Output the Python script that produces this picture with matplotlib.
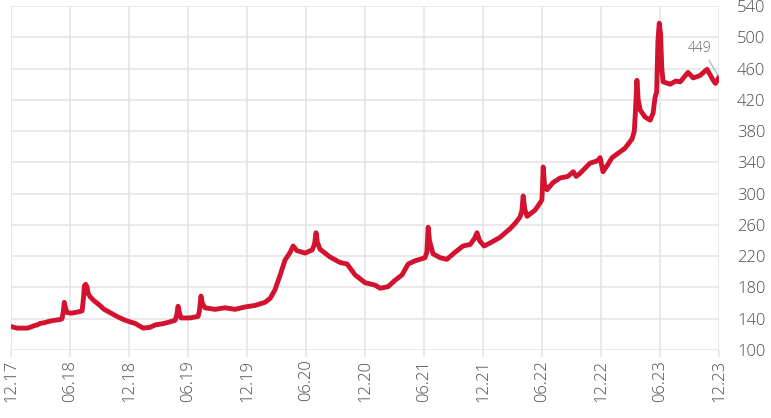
import pandas as pd
import matplotlib.pyplot as plt
import matplotlib.dates as mdates

# values
dates = ['2017-12-01', '2017-12-10', '2017-12-20', '2018-01-05', '2018-01-20', '2018-01-29',
         '2018-02-10', '2018-02-20', '2018-03-01', '2018-03-15', '2018-04-01', '2018-04-15',
         '2018-05-02', '2018-05-08', '2018-05-12', '2018-05-15', '2018-05-18', '2018-05-23',
         '2018-06-05', '2018-06-17', '2018-06-30', '2018-07-09', '2018-07-13', '2018-07-16',
         '2018-07-20', '2018-07-24', '2018-07-28', '2018-08-03', '2018-08-15', '2018-09-02',
         '2018-09-15', '2018-10-03', '2018-10-20', '2018-11-03', '2018-11-20', '2018-12-04',
         '2018-12-20', '2019-01-14', '2019-02-04', '2019-02-20', '2019-03-07', '2019-03-20',
         '2019-04-07', '2019-04-23', '2019-04-28', '2019-05-02', '2019-05-06', '2019-05-11',
         '2019-06-08', '2019-07-03', '2019-07-07', '2019-07-12', '2019-07-16', '2019-07-24',
         '2019-08-24', '2019-09-24', '2019-10-25', '2019-11-25', '2019-12-26', '2020-01-26',
         '2020-02-11', '2020-02-26', '2020-03-13', '2020-03-28', '2020-04-13', '2020-04-22',
         '2020-05-04', '2020-05-29', '2020-06-20', '2020-06-27', '2020-07-02', '2020-07-06',
         '2020-07-14', '2020-08-14', '2020-09-14', '2020-10-06', '2020-10-31', '2020-12-01',
         '2021-01-01', '2021-01-16', '2021-02-10', '2021-03-03', '2021-03-25', '2021-04-13',
         '2021-05-04', '2021-06-04', '2021-06-10', '2021-06-14', '2021-06-18', '2021-06-29',
         '2021-07-21', '2021-08-11', '2021-09-05', '2021-09-30', '2021-10-22', '2021-11-05',
         '2021-11-12', '2021-11-20', '2021-12-04', '2021-12-23', '2022-01-22', '2022-02-22',
         '2022-03-10', '2022-03-25', '2022-03-31', '2022-04-04', '2022-04-09', '2022-04-16',
         '2022-05-11', '2022-05-26', '2022-06-01', '2022-06-05', '2022-06-09', '2022-06-17',
         '2022-07-05', '2022-07-27', '2022-08-20', '2022-09-06', '2022-09-15', '2022-09-27',
         '2022-10-28', '2022-11-20', '2022-11-28', '2022-12-07', '2022-12-20', '2023-01-04',
         '2023-02-13', '2023-03-07', '2023-03-14', '2023-03-18', '2023-03-22', '2023-03-26',
         '2023-04-01', '2023-04-16', '2023-05-02', '2023-05-11', '2023-05-17', '2023-05-22',
         '2023-05-26', '2023-05-30', '2023-06-03', '2023-06-07', '2023-06-11', '2023-07-03',
         '2023-07-20', '2023-08-03', '2023-08-27', '2023-09-12', '2023-10-03', '2023-10-25',
         '2023-11-13', '2023-11-20', '2023-12-01']
values = [130, 129, 128, 128, 128, 129,
          131, 132, 134, 135, 137, 138,
          139, 140, 150, 161, 155, 148,
          147, 148, 149, 150, 165, 182,
          184, 181, 172, 168, 163, 157,
          152, 148, 144, 141, 138, 136,
          134, 128, 129, 132, 133, 134,
          136, 138, 145, 156, 148, 141,
          141, 143, 150, 169, 160, 154,
          152, 154, 152, 155, 157, 161,
          166, 177, 196, 215, 225, 233,
          227, 224, 228, 235, 250, 238,
          229, 219, 212, 210, 196, 186,
          183, 179, 181, 189, 196, 210,
          214, 218, 225, 257, 240, 223,
          218, 216, 225, 233, 235, 243,
          250, 240, 233, 237, 244, 255,
          262, 270, 278, 297, 280, 271,
          279, 288, 292, 334, 312, 305,
          314, 320, 322, 328, 322, 326,
          339, 342, 346, 328, 336, 346,
          358, 370, 380, 410, 445, 420,
          407, 398, 394, 403, 423, 430,
          495, 518, 505, 460, 443, 440,
          444, 443, 455, 448, 451, 459,
          445, 441, 449]
last_label = '449'
y_ticks = list(range(100, 541, 40))

df = pd.DataFrame({'date': pd.to_datetime(dates), 'value': values})
tick_dates = pd.date_range('2017-12-01', '2023-12-01', freq='6MS')

plt.rcParams['font.family'] = ['Open Sans', 'DejaVu Sans']
text_color = '#4a4a4a'
grid_color = '#e3e3e3'

fig = plt.figure(figsize=(7.71, 4.18), dpi=100)
ax = fig.add_axes([11 / 771, 1 - 350 / 418, 708 / 771, 344 / 418])

ax.plot(df['date'], df['value'], color='#d2122e', linewidth=3.5, solid_joinstyle='round',
        solid_capstyle='round', zorder=3)

ax.set_xlim(tick_dates[0], tick_dates[-1])
ax.set_ylim(100, 540)
ax.set_xticks(tick_dates)
ax.xaxis.set_major_formatter(mdates.DateFormatter('%m.%y'))
ax.set_yticks(y_ticks)
ax.yaxis.tick_right()

ax.grid(True, color=grid_color, linewidth=1.1)
ax.set_axisbelow(True)
for s in ax.spines.values():
    s.set_visible(False)

ax.tick_params(axis='x', length=5, width=1.1, color=grid_color, pad=2,
               labelsize=12, labelcolor=text_color, labelrotation=90)
ax.tick_params(axis='y', length=0, pad=13, labelsize=12, labelcolor=text_color)
for lbl in ax.get_xticklabels() + ax.get_yticklabels():
    lbl.set_fontweight('light')

ax.annotate(last_label, xy=(df['date'].iloc[-1], values[-1]), xytext=(-14, 15),
            textcoords='offset points', ha='center', va='bottom', fontsize=10, color='#666666',
            fontweight='light',
            arrowprops=dict(arrowstyle='-', color='#aaaaaa', lw=0.8, relpos=(0.8, 0),
                            shrinkA=1, shrinkB=1))

fig.savefig('out.png', dpi=100)
